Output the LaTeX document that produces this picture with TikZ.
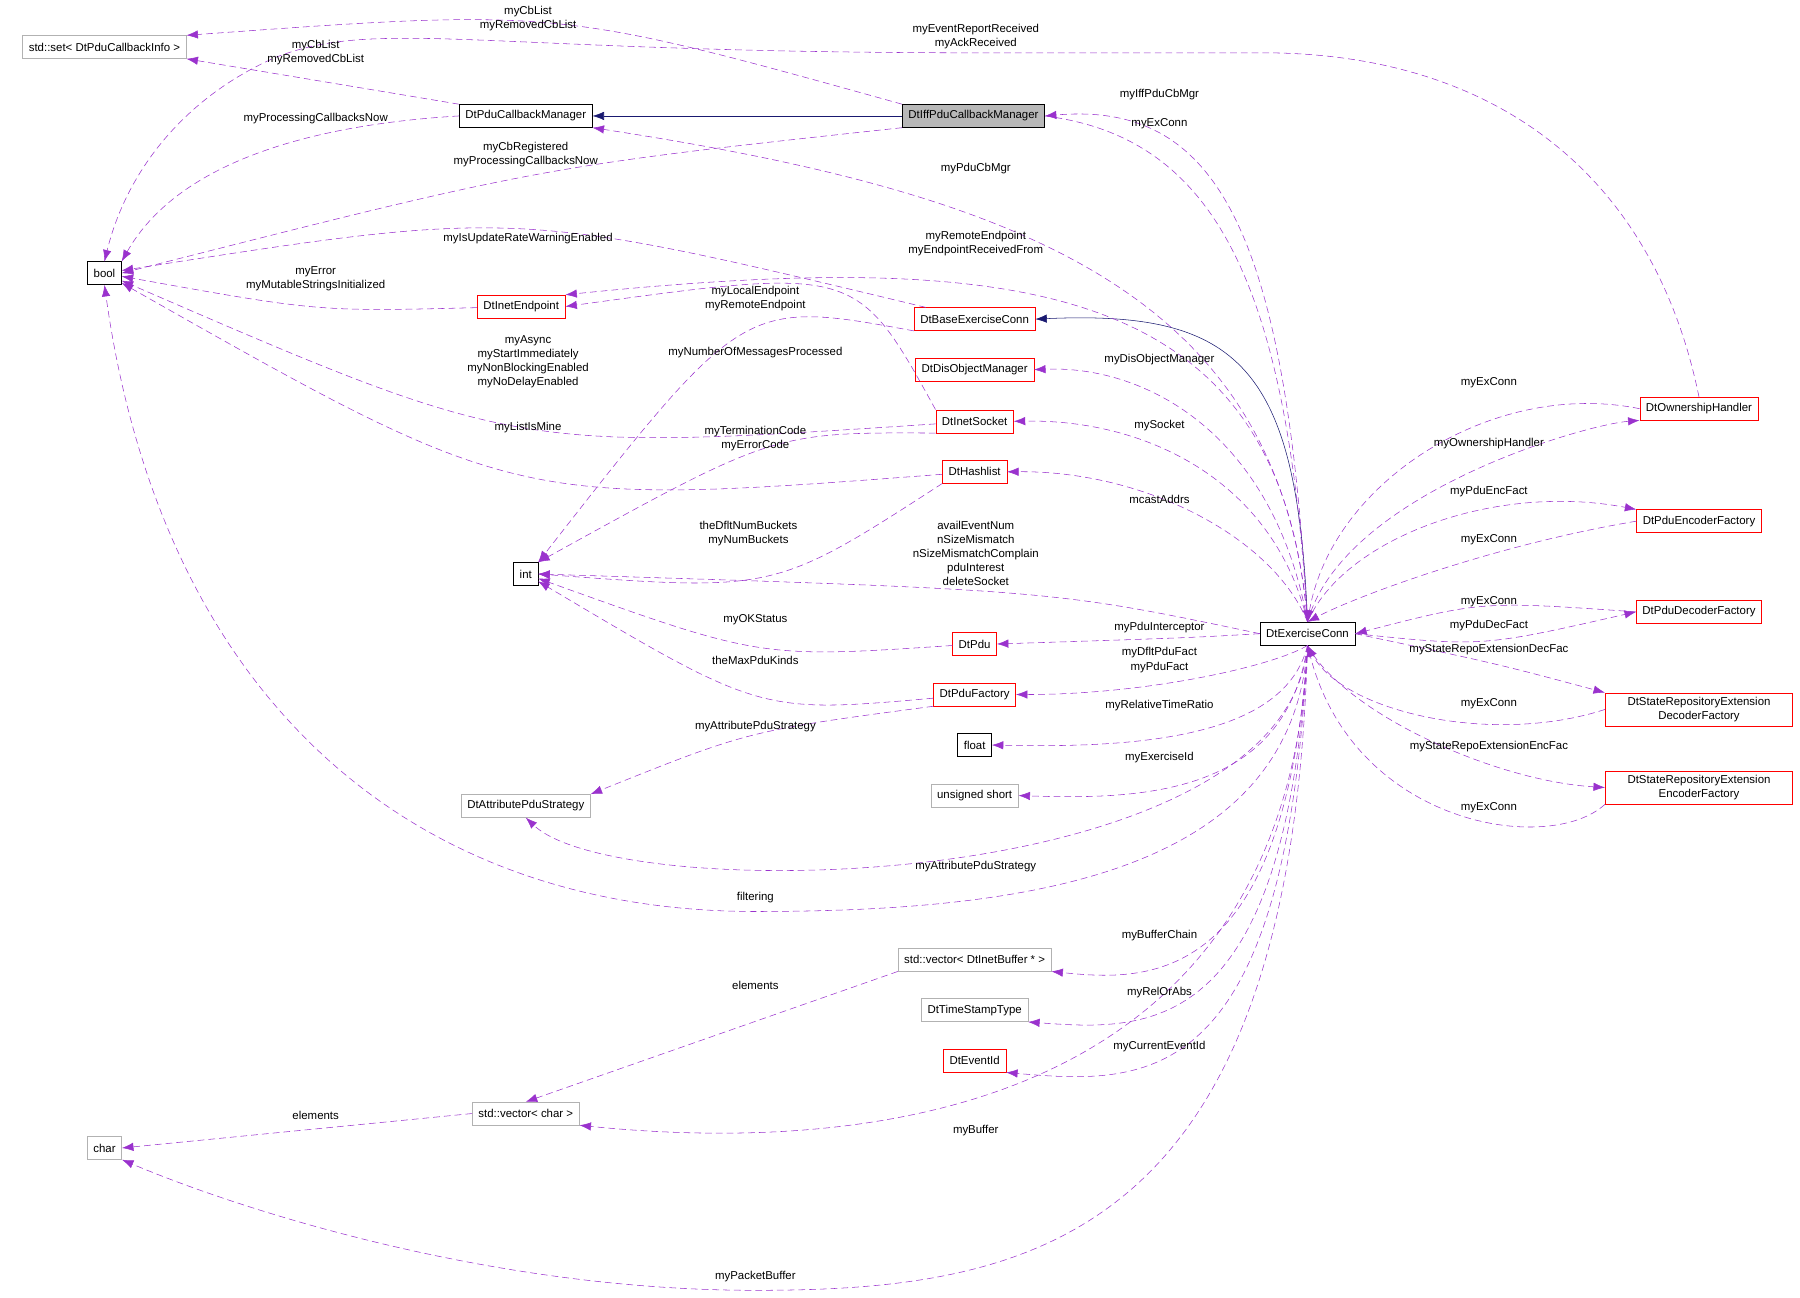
\documentclass[tikz,border=0pt]{standalone}
\usepackage{fontspec}
\setmainfont{Liberation Sans}
\usetikzlibrary{arrows.meta,calc}
\definecolor{dpurple}{HTML}{9A32CD}
\definecolor{dnavy}{HTML}{191970}
\tikzset{
    cls/.style={draw=black, fill=white, rectangle, inner xsep=1.6mm, minimum height=6mm, font=\fontsize{8.5}{10}\selectfont},
    clsR/.style={cls, draw=red},
    clsG/.style={cls, draw=black!30},
    dep/.style={draw=dpurple, dash pattern=on 5pt off 3pt, -{Latex[length=3mm,width=2.2mm]}},
    inh/.style={draw=dnavy, -{Latex[length=3mm,width=2.2mm]}},
    lbl/.style={align=center, inner sep=0pt, font=\fontsize{8.5}{10.5}\selectfont}
}
% dependency edge through a point
\newcommand\dep[3]{\draw[dep] (#1) .. controls ($2*(#3)-0.5*(#1)-0.5*(#2)$) .. (#2);}
% dependency edge with two control points
\newcommand\depC[4]{\draw[dep] (#1) .. controls (#3) and (#4) .. (#2);}
\begin{document}
\begin{tikzpicture}[x=0.3mm, y=-0.3mm]
    \useasboundingbox (0,0) rectangle (1568,1130);
    % classes
    \node[clsG] (set) at (91,41) {std::set< DtPduCallbackInfo >};
    \node[cls] (pcm) at (458,101) {DtPduCallbackManager};
    \node[cls, fill=black!28] (iff) at (848,101) {DtIffPduCallbackManager};
    \node[cls] (bool) at (91,238) {bool};
    \node[clsR] (iep) at (454,267) {DtInetEndpoint};
    \node[clsR] (bec) at (849,278) {DtBaseExerciseConn};
    \node[clsR] (dom) at (849,322) {DtDisObjectManager};
    \node[clsR] (isock) at (849,367) {DtInetSocket};
    \node[clsR] (hl) at (849,411) {DtHashlist};
    \node[cls] (int) at (458,500) {int};
    \node[clsR] (pdu) at (849,561) {DtPdu};
    \node[clsR] (pf) at (849,605) {DtPduFactory};
    \node[cls] (flt) at (849,649) {float};
    \node[clsG] (ushort) at (849,693) {unsigned short};
    \node[clsG] (aps) at (458,702) {DtAttributePduStrategy};
    \node[clsG] (vib) at (849,836) {std::vector< DtInetBuffer * >};
    \node[clsG] (tst) at (849,880) {DtTimeStampType};
    \node[clsR] (eid) at (849,924) {DtEventId};
    \node[clsG] (vch) at (458,970) {std::vector< char >};
    \node[clsG] (chr) at (91,1000) {char};
    \node[cls] (ec) at (1139,552) {DtExerciseConn};
    \node[clsR] (own) at (1480,356) {DtOwnershipHandler};
    \node[clsR] (enc) at (1480,454) {DtPduEncoderFactory};
    \node[clsR] (dec) at (1480,533) {DtPduDecoderFactory};
    \node[clsR, align=center, minimum width=49mm] (sdec) at (1480,618) {DtStateRepositoryExtension\\DecoderFactory};
    \node[clsR, align=center, minimum width=49mm] (senc) at (1480,686) {DtStateRepositoryExtension\\EncoderFactory};
    % inheritance
    \draw[inh] (iff) -- (pcm);
    \draw[inh] (ec.north) .. controls (1130,320) and (1080,270) .. (bec.east);
    % dependencies, top and left part
    \dep{iff.north west}{set.north east}{480,34}
    \draw[dep] (pcm.north west) -- (set.south east);
    \depC{pcm.west}{bool.north east}{250,110}{150,150}
    \dep{iff.south west}{bool.east}{458,160}
    \draw[dep] (own.north) .. controls (1440,150) and (1300,46) .. (1100,46) -- (850,46)
        .. controls (420,46) and (330,15) .. (240,50) .. controls (160,85) and (110,150) .. (bool.north);
    \dep{bec}{bool}{460,220}
    \dep{iep}{bool}{275,262}
    \dep{isock.north west}{iep.east}{700,272}
    \dep{isock}{bool}{460,348}
    \dep{bec.south west}{int.north east}{640,325}
    \dep{hl}{bool}{460,383}
    \dep{isock.south west}{int.north east}{658,405}
    \dep{hl.south west}{int.east}{660,488}
    \dep{pdu}{int}{658,552}
    \dep{pf}{int}{658,587}
    \dep{pf.south west}{aps.north east}{658,645}
    \draw[dep] (vib.south west) -- (vch.north);
    \draw[dep] (vch.west) -- (chr.east);
    % dependencies of DtExerciseConn, left side
    \depC{ec.north}{iff.east}{1120,200}{1060,88}
    \depC{iff.east}{ec.north}{1060,120}{1120,250}
    \depC{ec.north}{pcm.south east}{1115,260}{900,170}
    \depC{ec.north}{iep.north east}{1115,250}{900,215}
    \depC{ec.north}{dom.east}{1110,380}{1000,318}
    \depC{ec.north}{isock.east}{1110,420}{1000,365}
    \depC{ec.north}{hl.east}{1110,470}{1000,410}
    \dep{ec.west}{int.east}{850,520}
    \dep{ec.west}{pdu.east}{1010,556}
    \depC{ec.south}{pf.east}{1110,580}{1000,605}
    \depC{ec.south}{flt.east}{1120,640}{1000,652}
    \depC{ec.south}{ushort.east}{1120,690}{1000,697}
    \depC{ec.south}{aps.south}{1120,780}{540,790}
    \draw[dep] (ec.south) .. controls (1125,760) and (900,794) .. (658,794)
        .. controls (350,794) and (140,600) .. (bool.south);
    \depC{ec.south}{vib.south east}{1120,860}{1000,855}
    \depC{ec.south}{tst.south east}{1120,905}{1000,898}
    \depC{ec.south}{eid.south east}{1120,950}{1000,945}
    \depC{ec.south}{vch.south east}{1120,1000}{700,1000}
    \draw[dep] (ec.south) .. controls (1125,1080) and (900,1124) .. (658,1124)
        .. controls (420,1124) and (200,1050) .. (chr.south east);
    % dependencies of DtExerciseConn, right side
    \depC{own.west}{ec.north}{1300,330}{1160,420}
    \depC{ec.north}{own.south west}{1170,430}{1380,370}
    \depC{ec.north}{enc.north west}{1170,470}{1300,420}
    \depC{enc.west}{ec.north}{1300,475}{1180,520}
    \dep{dec.west}{ec.east}{1297,533}
    \dep{ec.east}{dec.west}{1297,553}
    \dep{ec.east}{sdec.north west}{1297,578}
    \depC{sdec.west}{ec.south}{1300,650}{1170,620}
    \depC{ec.south}{senc.west}{1170,620}{1300,680}
    \depC{senc.south west}{ec.south}{1350,745}{1180,720}
    % labels
    \node[lbl] (l1) at (460,16) {myCbList\\myRemovedCbList};
    \node[lbl] (l2) at (275,46) {myCbList\\myRemovedCbList};
    \node[lbl] (l3) at (275,103) {myProcessingCallbacksNow};
    \node[lbl] (l4) at (458,135) {myCbRegistered\\myProcessingCallbacksNow};
    \node[lbl] (l5) at (850,32) {myEventReportReceived\\myAckReceived};
    \node[lbl] (l7) at (1010,82) {myIffPduCbMgr};
    \node[lbl] (l8) at (1010,108) {myExConn};
    \node[lbl] (l9) at (850,147) {myPduCbMgr};
    \node[lbl] (l10) at (460,208) {myIsUpdateRateWarningEnabled};
    \node[lbl] (l11) at (850,212) {myRemoteEndpoint\\myEndpointReceivedFrom};
    \node[lbl] (l12) at (275,243) {myError\\myMutableStringsInitialized};
    \node[lbl] (l13) at (658,260) {myLocalEndpoint\\myRemoteEndpoint};
    \node[lbl] (l15) at (460,315) {myAsync\\myStartImmediately\\myNonBlockingEnabled\\myNoDelayEnabled};
    \node[lbl] (l16) at (658,307) {myNumberOfMessagesProcessed};
    \node[lbl] (l17) at (1010,313) {myDisObjectManager};
    \node[lbl] (l18) at (1010,371) {mySocket};
    \node[lbl] (l19) at (460,372) {myListIsMine};
    \node[lbl] (l20) at (658,382) {myTerminationCode\\myErrorCode};
    \node[lbl] (l21) at (652,465) {theDfltNumBuckets\\myNumBuckets};
    \node[lbl] (l22) at (1010,435) {mcastAddrs};
    \node[lbl] (l23) at (850,482) {availEventNum\\nSizeMismatch\\nSizeMismatchComplain\\pduInterest\\deleteSocket};
    \node[lbl] (l24) at (658,540) {myOKStatus};
    \node[lbl] (l25) at (658,575) {theMaxPduKinds};
    \node[lbl] (l26) at (1010,547) {myPduInterceptor};
    \node[lbl] (l27) at (1010,575) {myDfltPduFact\\myPduFact};
    \node[lbl] (l28) at (658,633) {myAttributePduStrategy};
    \node[lbl] (l29) at (1010,615) {myRelativeTimeRatio};
    \node[lbl] (l30) at (1010,660) {myExerciseId};
    \node[lbl] (l31) at (850,755) {myAttributePduStrategy};
    \node[lbl] (l32) at (658,782) {filtering};
    \node[lbl] (l33) at (1010,815) {myBufferChain};
    \node[lbl] (l34) at (658,858) {elements};
    \node[lbl] (l35) at (1010,865) {myRelOrAbs};
    \node[lbl] (l36) at (1010,912) {myCurrentEventId};
    \node[lbl] (l37) at (275,972) {elements};
    \node[lbl] (l38) at (850,985) {myBuffer};
    \node[lbl] (l39) at (658,1112) {myPacketBuffer};
    \node[lbl] (l40) at (1297,333) {myExConn};
    \node[lbl] (l41) at (1297,386) {myOwnershipHandler};
    \node[lbl] (l42) at (1297,428) {myPduEncFact};
    \node[lbl] (l43) at (1297,470) {myExConn};
    \node[lbl] (l44) at (1297,524) {myExConn};
    \node[lbl] (l45) at (1297,545) {myPduDecFact};
    \node[lbl] (l46) at (1297,566) {myStateRepoExtensionDecFac};
    \node[lbl] (l47) at (1297,613) {myExConn};
    \node[lbl] (l48) at (1297,650) {myStateRepoExtensionEncFac};
    \node[lbl] (l49) at (1297,704) {myExConn};
\end{tikzpicture}
\end{document}
